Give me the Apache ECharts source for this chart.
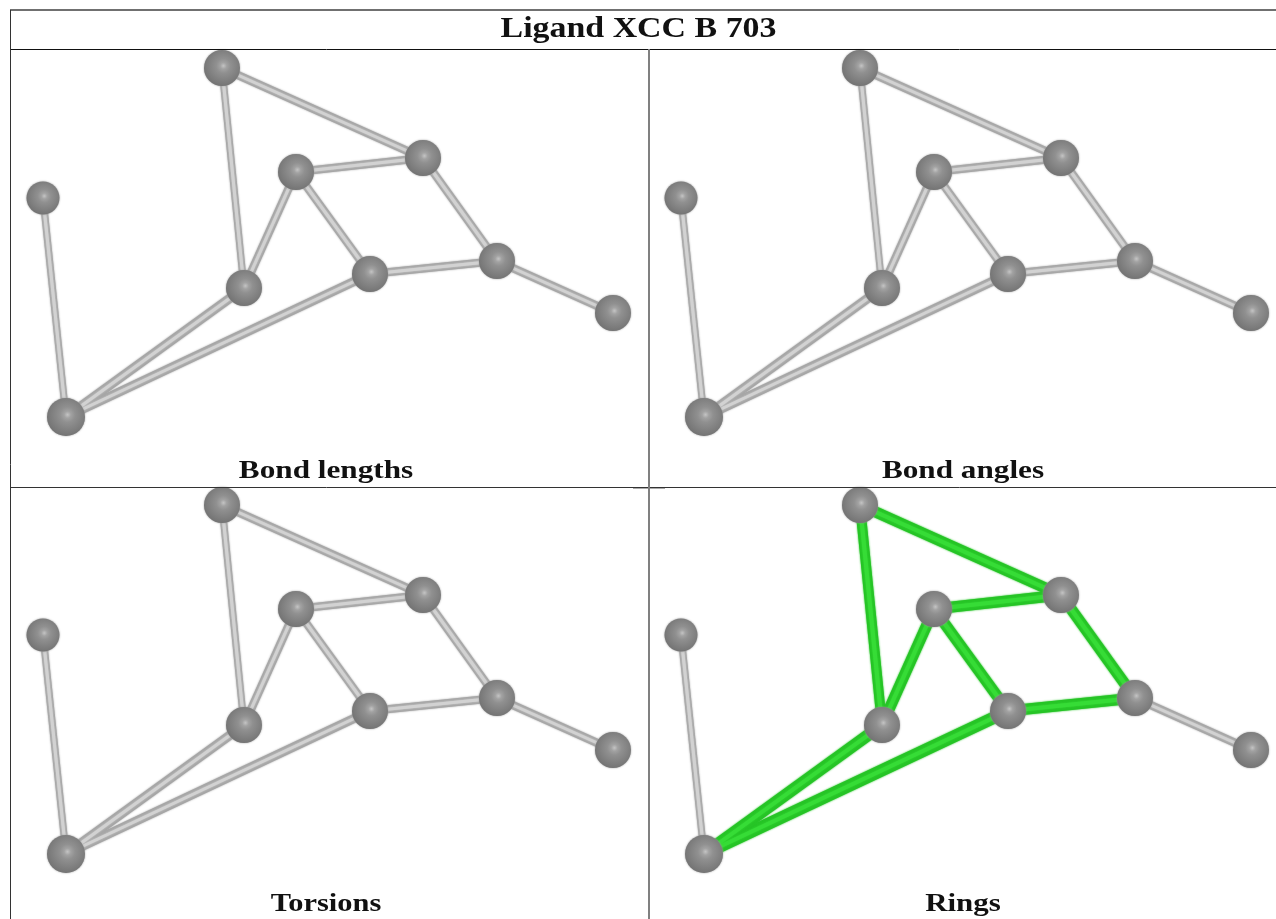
<!DOCTYPE html>
<html><head><meta charset="utf-8">
<style>html,body{margin:0;padding:0;background:#fff}#c{width:1276px;height:919px}</style>
<script src="https://cdn.jsdelivr.net/npm/echarts@6/dist/echarts.min.js"></script>
</head><body><div id="c"></div>
<script>
const title = 'Ligand XCC B 703';
const panelNames = ['Bond lengths','Bond angles','Torsions','Rings'];
const atomNames = ['A','B','C','D','E','F','G','H','I'];
const atomX = [212,413,286,33,234,360,487,603,56];
const atomY = [19,109,123,149,239,225,212,264,368];
const atomSize = [36,36,36,33,36,36,36,36,38];
const bonds = [['A','B'],['A','E'],['C','B'],['C','E'],['C','F'],['B','G'],['F','G'],['G','H'],['F','I'],['E','I'],['D','I']];
const bondWidth = [9,8,9,9,9,9,9,9,10,10,8];
const ringBonds = ['A-B','A-E','C-B','C-E','C-F','B-G','F-G','F-I','E-I'];
const panelLeft = [10,648,10,648];
const panelTop = [49,49,486,486];
const panelHeight = [437,437,433,433];
const panelWidth = [638,628,638,628];
const panelRing = [false,false,false,true];
const labelStretch = [1.2,1.2,1.17,1.19];
const pos = n => { const i = atomNames.indexOf(n); return [atomX[i], atomY[i]]; };
const grids=[], xAxes=[], yAxes=[], series=[];
panelNames.forEach((name,p)=>{
  grids.push({left:panelLeft[p],top:panelTop[p],width:panelWidth[p],height:panelHeight[p]});
  xAxes.push({type:'value',gridIndex:p,min:0,max:panelWidth[p],show:false});
  yAxes.push({type:'value',gridIndex:p,min:0,max:panelHeight[p],inverse:true,show:false});
  const green = b => panelRing[p] && ringBonds.includes(b[0]+'-'+b[1]);
  const mk = (widthOf,colorOf,z) => ({type:'lines',coordinateSystem:'cartesian2d',xAxisIndex:p,yAxisIndex:p,silent:true,z,animation:false,
    data:bonds.map((b,i)=>({coords:[pos(b[0]),pos(b[1])],lineStyle:{width:widthOf(b,i),color:colorOf(b),opacity:1,cap:'butt',shadowBlur:2,shadowColor:colorOf(b)}}))});
  series.push(mk((b,i)=>green(b)?bondWidth[i]+2:bondWidth[i]-1,b=>green(b)?'#26c426':'#a6a6a6',2));
  series.push(mk((b,i)=>green(b)?4:3,b=>green(b)?'#36dc36':'#d2d2d2',3));
  series.push({type:'scatter',xAxisIndex:p,yAxisIndex:p,z:4,silent:true,animation:false,
    data:atomX.map((x,i)=>({value:[x,atomY[i]],symbolSize:atomSize[i]})),
    itemStyle:{opacity:1,shadowBlur:2,shadowColor:'#9a9a9a',color:{type:'radial',x:0.54,y:0.44,r:0.56,colorStops:[
      {offset:0,color:'#c4c4c4'},{offset:0.16,color:'#a2a2a2'},{offset:0.36,color:'#909090'},{offset:0.82,color:'#7c7c7c'},{offset:1,color:'#747474'}]}}});
});
const rule=(x1,y1,x2,y2,stroke='#333',lineWidth=1)=>({type:'line',silent:true,z:10,shape:{x1,y1,x2,y2},style:{stroke,lineWidth}});
const label=(t,x,y,size,sx)=>({type:'text',z:11,silent:true,x,y,scaleX:sx,style:{text:t,font:'bold '+size+'px "Liberation Serif"',fill:'#111',align:'center',verticalAlign:'middle'}});
const graphics=[
  rule(10,10,1276,10,'#707070',2),rule(10,49.5,1276,49.5,'#111',1),rule(10,487.5,1276,487.5,'#333',1),
  rule(633,488.5,665,488.5,'#aaa',1),
  rule(10.5,10,10.5,919,'#333',1),rule(649,49,649,919,'#808080',2),
  label(title,638.5,29,30,1.13),label(panelNames[0],326,471,26,labelStretch[0]),label(panelNames[1],963,471,26,labelStretch[1]),label(panelNames[2],326,904,26,labelStretch[2]),label(panelNames[3],963,904,26,labelStretch[3])
];
const chart=echarts.init(document.getElementById('c'));
chart.setOption({animation:false,backgroundColor:'#fff',grid:grids,xAxis:xAxes,yAxis:yAxes,series,graphic:graphics});
</script></body></html>
